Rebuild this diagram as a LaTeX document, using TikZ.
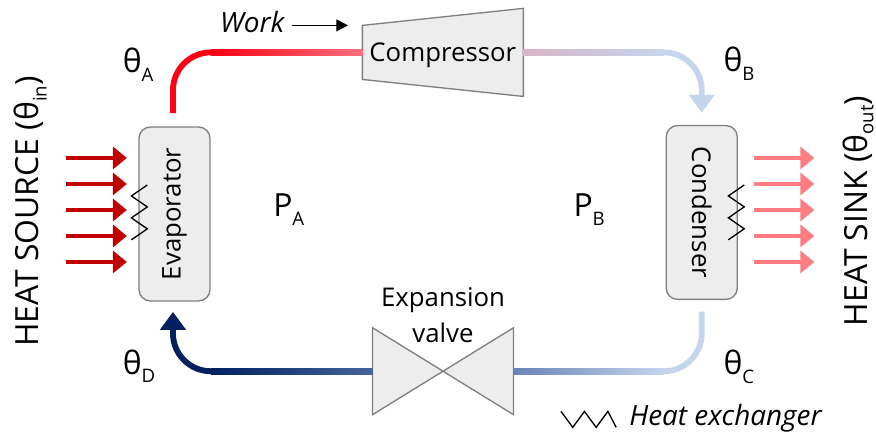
\documentclass[tikz,border=0pt]{standalone}
\usepackage{fontspec}
\setmainfont{Open Sans}
\usepackage{tikz}
\usetikzlibrary{arrows.meta, positioning, calc}
\definecolor{boxfill}{RGB}{237, 237, 237}
\definecolor{boxline}{RGB}{127, 127, 127}
\definecolor{sourcered}{RGB}{192, 0, 0}
\definecolor{sinkred}{RGB}{255, 124, 128}
\definecolor{hotred}{RGB}{255, 0, 20}
\definecolor{warmpink}{RGB}{255, 112, 128}
\definecolor{mauve}{RGB}{216, 180, 200}
\definecolor{paleblue}{RGB}{197, 213, 238}
\definecolor{midblue}{RGB}{104, 132, 182}
\definecolor{slateblue}{RGB}{70, 100, 155}
\definecolor{deepnavy}{RGB}{0, 32, 96}
\newcommand{\lowsub}[2][6.5pt]{\raisebox{-#1}{\fontsize{14}{14}\selectfont #2}}
\tikzset{
  devicebox/.style={draw=boxline, fill=boxfill, line width=1pt, rounded corners=0.3cm, outer sep=0pt, minimum width=1.88cm, minimum height=4.6cm, font=\fontsize{19.4}{20}\selectfont},
  deviceshape/.style={draw=boxline, fill=boxfill, line width=1pt},
  emptybox/.style={inner sep=0pt, outer sep=0pt},
  pipe/.style={line width=4.4pt, rounded corners=1cm},
  pipearrow/.style={pipe, -{Triangle[length=13.5pt, width=18.8pt]}},
  heatarrow/.style={line width=3.4pt, -{Triangle[length=10.5pt, width=16.5pt]}},
  zigzag/.style={black, line width=1pt},
  devicetext/.style={font=\fontsize{19.4}{27}\selectfont, align=center, inner sep=0pt},
  thetatext/.style={font=\fontsize{24}{28}\selectfont, inner sep=0pt, anchor=base west},
  sidetext/.style={font=\fontsize{24}{28}\selectfont, inner sep=0pt, rotate=90, anchor=base},
  notetext/.style={font=\fontsize{21}{24}\selectfont\itshape, inner sep=0pt, anchor=base west}
}
\begin{document}
\begin{tikzpicture}
    \useasboundingbox (-4.617,-5.874) rectangle (18.561,5.662);

    \node (evap) [devicebox] {\rotatebox{90}{Evaporator}};
    \node (cond) [devicebox, right=12.07cm of evap, yshift=0.04cm] {\rotatebox{-90}{Condenser}};
    \node (comp) [emptybox, above right=1.26cm and 4.03cm of evap, minimum width=4.26cm, minimum height=1.43cm] {};
    \node (valve) [emptybox, below right=0.71cm and 4.30cm of evap, minimum width=3.73cm, minimum height=2.30cm] {};

    % compressor and valve outlines
    \draw[deviceshape] (comp.north west) -- ([yshift=0.45cm]comp.north east) -- ([yshift=-0.45cm]comp.south east) -- (comp.south west) -- cycle;
    \draw[deviceshape] (valve.north west) -- (valve.center) -- (valve.north east) -- (valve.south east) -- (valve.center) -- (valve.south west) -- cycle;
    \node (comptext) [devicetext, yshift=-0.08cm] at (comp.center) {Compressor};
    \node (valvetext) [devicetext, above=-0.40cm of valve.north] {Expansion\\valve};

    \coordinate (evapout) at ([xshift=-0.04cm, yshift=0.37cm]evap.north);
    \coordinate (evapin) at ([xshift=-0.04cm, yshift=-0.29cm]evap.south);
    \coordinate (condin) at ([yshift=0.34cm]cond.north);
    \coordinate (condout) at ([yshift=-0.32cm]cond.south);

    % pipes, the straight runs get a colour ramp on top
    \draw[pipe, hotred] (evapout) |- (comp.west);
    \shade[left color=hotred, right color=warmpink] ($(evapout |- comp.west)+(1,-0.078)$) rectangle ($(comp.west)+(0,0.078)$);
    \draw[pipearrow, paleblue] (comp.east) -| (condin);
    \shade[left color=mauve, right color=paleblue] ($(comp.east)+(0,-0.078)$) rectangle ($(condin |- comp.east)+(-1,0.078)$);
    \draw[pipe, paleblue] (condout) |- (valve.east);
    \shade[left color=midblue, right color=paleblue] ($(valve.east)+(0,-0.078)$) rectangle ($(condout |- valve.east)+(-1,0.078)$);
    \draw[pipearrow, deepnavy] (valve.west) -| (evapin);
    \shade[left color=deepnavy, right color=slateblue] ($(evapin |- valve.west)+(1,-0.078)$) rectangle ($(valve.west)+(0,0.078)$);

    % heat flow in and out
    \foreach \i in {1,...,5} {
        \coordinate (in\i) at ([xshift=-0.32cm, yshift={(3-\i)*0.688cm+0.106cm}]evap.west);
        \coordinate (out\i) at ([xshift=0.45cm, yshift={(3-\i)*0.688cm+0.066cm}]cond.east);
        \draw[heatarrow, sourcered] ([xshift=-1.61cm]in\i) -- (in\i);
        \draw[heatarrow, sinkred] (out\i) -- ([xshift=1.59cm]out\i);
    }

    % heat exchanger zigzags
    \coordinate (zigA) at ([xshift=0.22cm, yshift=0.767cm]evap.west);
    \coordinate (zigB) at ([xshift=0.185cm, yshift=0.728cm]cond.east);
    \foreach \z in {zigA, zigB} {
        \draw[zigzag] (\z) -- ++(-0.42,-0.29) -- ++(0.42,-0.29) -- ++(-0.42,-0.29) -- ++(0.42,-0.29) -- ++(-0.42,-0.29);
    }

    \node (thetaA) [thetatext] at ([xshift=-1.376cm, yshift=1.437cm]evap.north) {θ\lowsub{A}};
    \node (thetaB) [thetatext] at ([xshift=0.569cm, yshift=1.42cm]cond.north) {θ\lowsub{B}};
    \node (thetaC) [thetatext] at ([xshift=0.569cm, yshift=-1.992cm]cond.south) {θ\lowsub{C}};
    \node (thetaD) [thetatext] at ([xshift=-1.376cm, yshift=-1.94cm]evap.south) {θ\lowsub{D}};
    \node (pA) [thetatext] at ([xshift=1.667cm, yshift=-0.07cm]evap.east) {P\lowsub{A}};
    \node (pB) [thetatext] at ([xshift=-2.46cm, yshift=-0.11cm]cond.west) {P\lowsub{B}};

    \node (source) [sidetext] at ([xshift=-3.61cm, yshift=0.066cm]evap.center) {HEAT SOURCE (θ\lowsub{in})};
    \node (sink) [sidetext] at ([xshift=4.38cm, yshift=0.04cm]cond.center) {HEAT SINK (θ\lowsub[4.5pt]{out})};

    \node (work) [notetext] at ([xshift=-3.77cm, yshift=-0.18cm]comp.north west) {Work};
    \coordinate (workend) at ([xshift=-0.38cm]comp.north west);
    \draw[-{Triangle[length=8.8pt, width=9pt]}, line width=0.8pt] ([xshift=-1.48cm]workend) -- (workend);

    \coordinate (legend) at ([xshift=1.257cm, yshift=0.087cm]valve.south east);
    \draw[zigzag] (legend) -- ++(0.31,-0.423) -- ++(0.31,0.423) -- ++(0.31,-0.423) -- ++(0.31,0.423) -- ++(0.22,-0.423);
    \node (legendtext) [notetext] at ([xshift=1.8cm, yshift=-0.378cm]legend) {Heat exchanger};
\end{tikzpicture}
\end{document}
